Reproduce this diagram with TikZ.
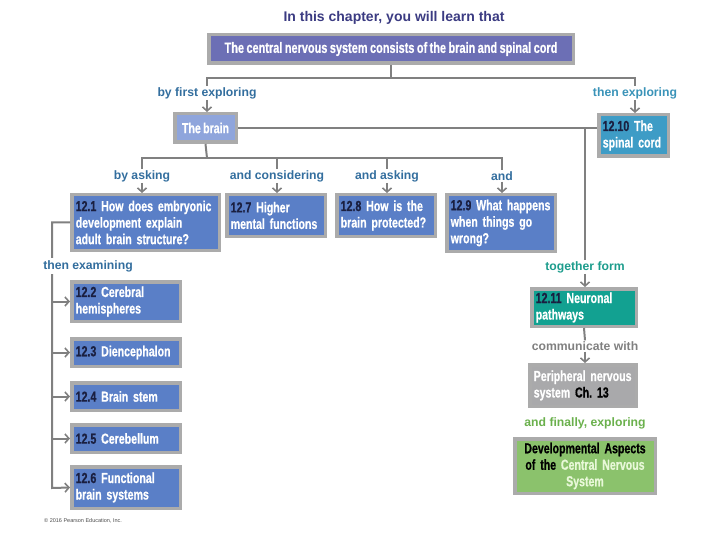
\documentclass[tikz,border=0pt]{standalone}
\usepackage{fontspec}
\setmainfont{Liberation Sans}
\newfontfamily\cond[FakeStretch=0.73, WordSpace=0.8, FakeBold=0.6]{Liberation Sans}
\usetikzlibrary{arrows.meta}
\definecolor{titlec}{HTML}{3B3B82}
\definecolor{topc}{HTML}{6C6FB5}
\definecolor{boxc}{HTML}{5A7FC7}
\definecolor{brainc}{HTML}{8FA5DC}
\definecolor{spinc}{HTML}{3E9CC6}
\definecolor{tealc}{HTML}{12A191}
\definecolor{grayboxc}{HTML}{A9A9AB}
\definecolor{greenc}{HTML}{8BC26C}
\definecolor{frameg}{HTML}{ABABAB}
\definecolor{lineg}{HTML}{808080}
\definecolor{numc}{HTML}{1A1F40}
\definecolor{lblc}{HTML}{336E9E}
\definecolor{lbl2c}{HTML}{3A93B8}
\definecolor{lbltealc}{HTML}{1C9C8C}
\definecolor{lblgreenc}{HTML}{6AB04C}
\definecolor{lightg}{HTML}{E8F8D8}
\newcommand\keepline[1]{\mbox{#1}}
\frenchspacing
\hyphenpenalty=10000
\hbadness=10000
\hfuzz=20pt
\begin{document}
\begin{tikzpicture}[x=1pt,y=-1pt,
  conn/.style={draw=lineg, line width=2pt},
  arr/.style={conn, -{Straight Barb[length=4pt,width=9pt,line width=1.6pt]}},
  box/.style={draw=frameg, line width=3.5pt, text=white, inner xsep=4pt, inner ysep=2pt,
    font=\cond\bfseries\fontsize{14.5}{16.5}\selectfont, align=left},
  lbl/.style={font=\bfseries\fontsize{12.2}{13}\selectfont, inner sep=1pt, text=lblc}]
\useasboundingbox (0,0) rectangle (720,540);
% title
\node[font=\bfseries\fontsize{14}{16}\selectfont, text=titlec] (title) at (394,18) {In this chapter, you will learn that};
% boxes
\node[box, fill=topc, minimum width=364.5pt, minimum height=28.5pt, align=center, font=\cond\bfseries\fontsize{15}{16}\selectfont] (top) at (391,49) {The central nervous system consists of the brain and spinal cord};
\node[box, fill=brainc, minimum width=61.5pt, minimum height=28.5pt, align=center] (brain) at (205.5,128) {The brain};
\node[box, fill=spinc, minimum width=69.5pt, minimum height=41.5pt, text width=61.5pt] (spinal) at (633.5,135.5) {\keepline{{\color{numc}12.10} The}\\\keepline{spinal cord}};
\node[box, fill=boxc, minimum width=147.5pt, minimum height=55.5pt, text width=139.5pt] (n121) at (145.5,222.5) {\keepline{{\color{numc}12.1} How does embryonic}\\development explain\\adult brain structure?};
\node[box, fill=boxc, minimum width=98.5pt, minimum height=41.5pt, text width=90.5pt] (n127) at (276,215.5) {{\color{numc}12.7} Higher\\\keepline{mental functions}};
\node[box, fill=boxc, minimum width=98.5pt, minimum height=41.5pt, text width=90.5pt] (n128) at (386,215.5) {{\color{numc}12.8} How is the\\\keepline{brain protected?}};
\node[box, fill=boxc, minimum width=108.5pt, minimum height=56.5pt, text width=100.5pt] (n129) at (501,223) {\keepline{{\color{numc}12.9} What happens}\\when things go\\wrong?};
\node[box, fill=boxc, minimum width=108.5pt, minimum height=39.5pt, text width=100.5pt] (n122) at (126,301.5) {{\color{numc}12.2} Cerebral\\hemispheres};
\node[box, fill=boxc, minimum width=108.5pt, minimum height=27.5pt, text width=100.5pt] (n123) at (126,352.5) {\keepline{{\color{numc}12.3} Diencephalon}};
\node[box, fill=boxc, minimum width=108.5pt, minimum height=27.5pt, text width=100.5pt] (n124) at (126,396.5) {{\color{numc}12.4} Brain stem};
\node[box, fill=boxc, minimum width=108.5pt, minimum height=27.5pt, text width=100.5pt] (n125) at (126,438.5) {{\color{numc}12.5} Cerebellum};
\node[box, fill=boxc, minimum width=108.5pt, minimum height=41.5pt, text width=100.5pt] (n126) at (126,487.5) {{\color{numc}12.6} Functional\\brain systems};
\node[box, fill=tealc, minimum width=104.5pt, minimum height=37.5pt, text width=96.5pt] (n1211) at (584,307.5) {{\color{numc}12.11} Neuronal\\pathways};
\node[box, fill=grayboxc, minimum width=106.5pt, minimum height=41.5pt, text width=98.5pt] (per) at (583,385.5) {\keepline{Peripheral nervous}\\system {\color{black}Ch. 13}};
\node[box, fill=greenc, text=black, minimum width=140.5pt, minimum height=54.5pt, text width=132.5pt, align=center] (dev) at (585,466) {\keepline{Developmental Aspects}\\of the {\color{lightg}Central Nervous}\\{\color{lightg}System}};
% labels
\node[lbl] (lb1) at (207,93) {by first exploring};
\node[lbl, text=lbl2c] (lb2) at (635,93) {then exploring};
\node[lbl] (la1) at (142,176) {by asking};
\node[lbl] (la2) at (277,176) {and considering};
\node[lbl] (la3) at (387,176) {and asking};
\node[lbl] (la4) at (502,176) {and};
\node[lbl, text=lbltealc] (lt) at (585,267) {together form};
\node[lbl, text=lineg] (lc) at (585,346) {communicate with};
\node[lbl, text=lblgreenc] (lf) at (585,423) {and finally, exploring};
% coordinates
\coordinate (hl) at (207,78);
\coordinate (h2) at (207,158);
\coordinate (v) at (585,128);
\coordinate (ex) at (52,488);
% connectors
\draw[conn] (top.south) -- (top.south |- hl);
\draw[conn] (lb1.north) -- (lb1.north |- hl) -- (lb2.north |- hl) -- (lb2.north);
\draw[arr] (lb1.south) -- (lb1.south |- brain.north);
\draw[arr] (lb2.south) -- (lb2.south |- spinal.north);
\draw[conn] (brain.east) -- (brain.east -| spinal.west);
\draw[conn] (brain.south) -- (h2);
\draw[conn] (la1.north) -- (la1.north |- h2) -- (la4.north |- h2) -- (la4.north);
\draw[conn] (la2.north) -- (la2.north |- h2);
\draw[conn] (la3.north) -- (la3.north |- h2);
\draw[arr] (la1.south) -- (la1.south |- n121.north);
\draw[arr] (la2.south) -- (la2.south |- n127.north);
\draw[arr] (la3.south) -- (la3.south |- n128.north);
\draw[arr] (la4.south) -- (la4.south |- n129.north);
\draw[conn] (v) -- (lt.north);
\draw[arr] (lt.south) -- (lt.south |- n1211.north);
\draw[conn] (n1211.south) -- (lc.north);
\draw[arr] (lc.south) -- (lc.south |- per.north);
\draw[arr] (n121.west) -| (ex) -- (n126.west);
\draw[arr] (n122.west -| ex) -- (n122.west);
\draw[arr] (n123.west -| ex) -- (n123.west);
\draw[arr] (n124.west -| ex) -- (n124.west);
\draw[arr] (n125.west -| ex) -- (n125.west);
\node[lbl, fill=white, inner sep=2pt] (le) at (88,266) {then examining};
% copyright
\node[font=\fontsize{5.5}{6}\selectfont, text=black!70, anchor=west, inner sep=0pt] (copy) at (44,521) {© 2016 Pearson Education, Inc.};
\end{tikzpicture}
\end{document}
